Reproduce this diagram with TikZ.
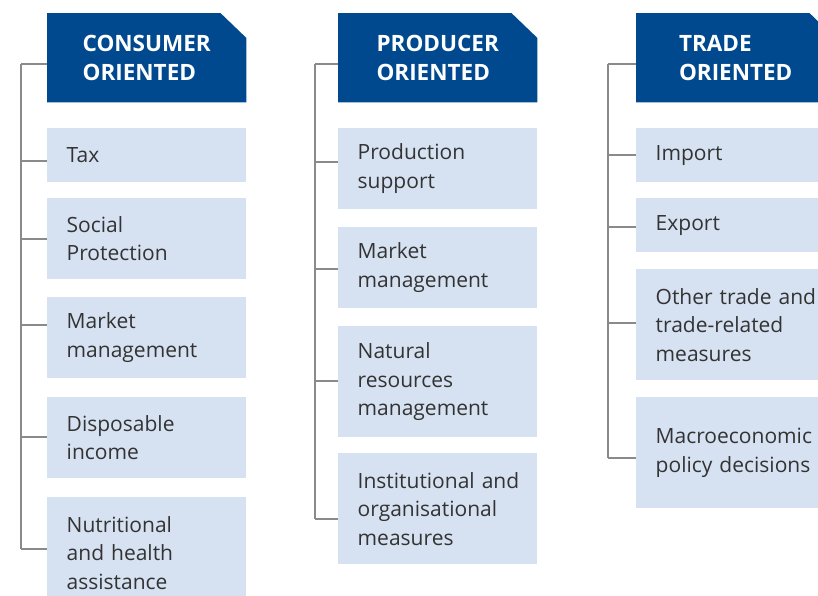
\documentclass[tikz,border=0pt]{standalone}
\usepackage{fontspec}
\setsansfont{Open Sans}
\usepackage{tikz}
\usetikzlibrary{positioning, backgrounds}
\definecolor{HeadBlue}{HTML}{00498F}
\definecolor{ItemFill}{HTML}{D6E2F2}
\definecolor{LinkGray}{HTML}{8A8A8A}
\definecolor{TextGray}{HTML}{333333}
\tikzset{
  headbox/.style={rectangle, anchor=north west, minimum width=199pt, minimum height=89pt, inner sep=0pt, text=white, font=\sffamily\bfseries\fontsize{22.5}{29}\selectfont, align=left},
  itembox/.style={rectangle, anchor=north west, fill=ItemFill, text width=160pt, inner xsep=19.5pt, inner ysep=0pt, text=TextGray, font=\sffamily\fontsize{21}{28.5}\selectfont, align=left},
  link/.style={draw=LinkGray, line width=1.1pt}
}

\begin{document}
\begin{tikzpicture}[x=1pt, y=-1pt]
  \useasboundingbox (0,0) rectangle (818,595);
  \clip (0,0) rectangle (818,595);

  % Headers
  \node[headbox] (cons) at (47,13) {CONSUMER\\ORIENTED};
  \node[headbox] (prod) at (338,13) {PRODUCER\\ORIENTED};
  \node[headbox] (trade) at (636,13) {TRADE\\ORIENTED};
  \begin{scope}[on background layer]
    \foreach \h in {cons, prod, trade}
      \fill[HeadBlue] (\h.south west) -- (\h.north west) -- ([xshift=-26pt]\h.north east)
        -- ([yshift=-25pt]\h.north east) -- (\h.south east) -- cycle;
  \end{scope}

  % Consumer oriented
  \node[itembox, minimum height=54pt] (tax) at (47,128) {Tax};
  \node[itembox, minimum height=81pt] (social) at (47,198) {Social\\Protection};
  \node[itembox, minimum height=81pt] (cmarket) at (47,297) {Market\\management};
  \node[itembox, minimum height=81pt] (income) at (47,397) {Disposable\\income};
  \node[itembox, minimum height=111pt] (nutri) at (47,497) {Nutritional\\and~health\\assistance};

  % Producer oriented
  \node[itembox, minimum height=81pt] (support) at (338,128) {Production\\support};
  \node[itembox, minimum height=81pt] (pmarket) at (338,227) {Market\\management};
  \node[itembox, minimum height=111pt] (natural) at (338,326) {Natural\\resources\\management};
  \node[itembox, minimum height=111pt] (inst) at (338,453) {Institutional~and\\organisational\\measures};

  % Trade oriented
  \node[itembox, minimum height=54pt] (import) at (636,128) {Import};
  \node[itembox, minimum height=54pt] (export) at (636,198) {Export};
  \node[itembox, minimum height=111pt] (other) at (636,269) {Other~trade~and\\trade-related\\measures};
  \node[itembox, minimum height=111pt] (macro) at (636,397) {Macroeconomic\\policy~decisions};

  % Spines
  \draw[link] (21,64) -- (21,549);
  \draw[link] (315,64) -- (315,519);
  \draw[link] (608,64) -- (608,458);

  % Ticks
  \foreach \n/\y in {cons/64, tax/161, social/239, cmarket/325, income/437, nutri/549}
    \draw[link] (21,\y) -- (\n.west |- 0,\y);
  \foreach \n/\y in {prod/64, support/162, pmarket/269, natural/381, inst/519}
    \draw[link] (315,\y) -- (\n.west |- 0,\y);
  \foreach \n/\y in {trade/64, import/155, export/227, other/323, macro/458}
    \draw[link] (608,\y) -- (\n.west |- 0,\y);
\end{tikzpicture}
\end{document}
